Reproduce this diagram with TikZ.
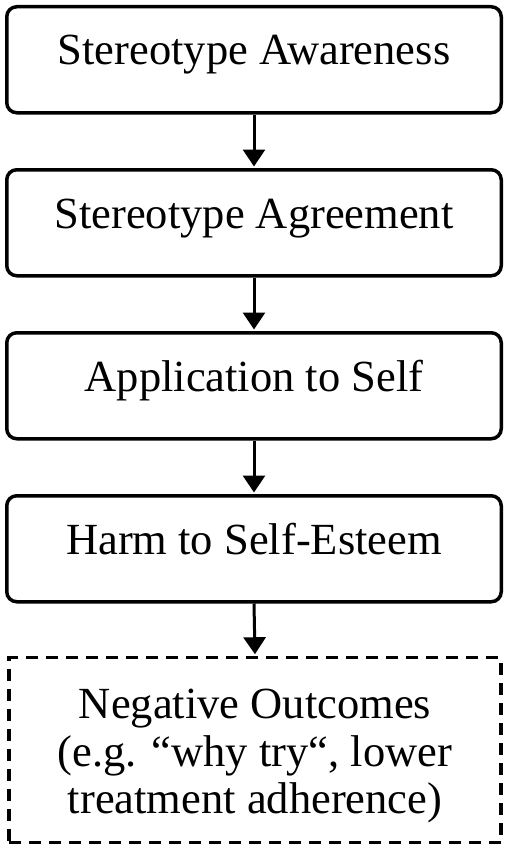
\documentclass[tikz,border=0pt]{standalone}
\usepackage{fontspec}
\setmainfont{Liberation Serif}
\usetikzlibrary{arrows.meta}
\begin{document}
\begin{tikzpicture}[x=1pt,y=-1pt,
  stagebox/.style={draw, line width=3.5pt, rounded corners=10pt,
    minimum width=494.5pt, minimum height=106pt, inner sep=0pt,
    text height=58.25pt, text depth=47.75pt,
    font=\fontsize{44.5}{47.5}\selectfont},
  outbox/.style={draw, line width=3.5pt, dash pattern=on 12pt off 8pt,
    minimum width=492pt, minimum height=185pt, inner sep=0pt},
  outtext/.style={align=center, inner sep=0pt,
    font=\fontsize{44.5}{47.5}\selectfont},
  flow/.style={line width=3pt, -{Triangle[width=22pt,length=17pt]}, shorten >=1.5pt}
]
\useasboundingbox (0,0) rectangle (510,851);
\node[stagebox] (s1) at (254,59.75) {Stereotype Awareness};
\node[stagebox] (s2) at (254,222.75) {Stereotype Agreement};
\node[stagebox] (s3) at (254,385.75) {Application to Self};
\node[stagebox] (s4) at (254,548.75) {Harm to Self-Esteem};
\node[outbox] (s5) at (255,750) {};
\node[outtext] (t5) at (255,756) {Negative Outcomes\\(e.g. “why try“, lower\\treatment adherence)};
\draw[flow] (s1.south) -- (s2.north);
\draw[flow] (s2.south) -- (s3.north);
\draw[flow] (s3.south) -- (s4.north);
\draw[flow] (s4.south) -- (s5.north);
\end{tikzpicture}
\end{document}
